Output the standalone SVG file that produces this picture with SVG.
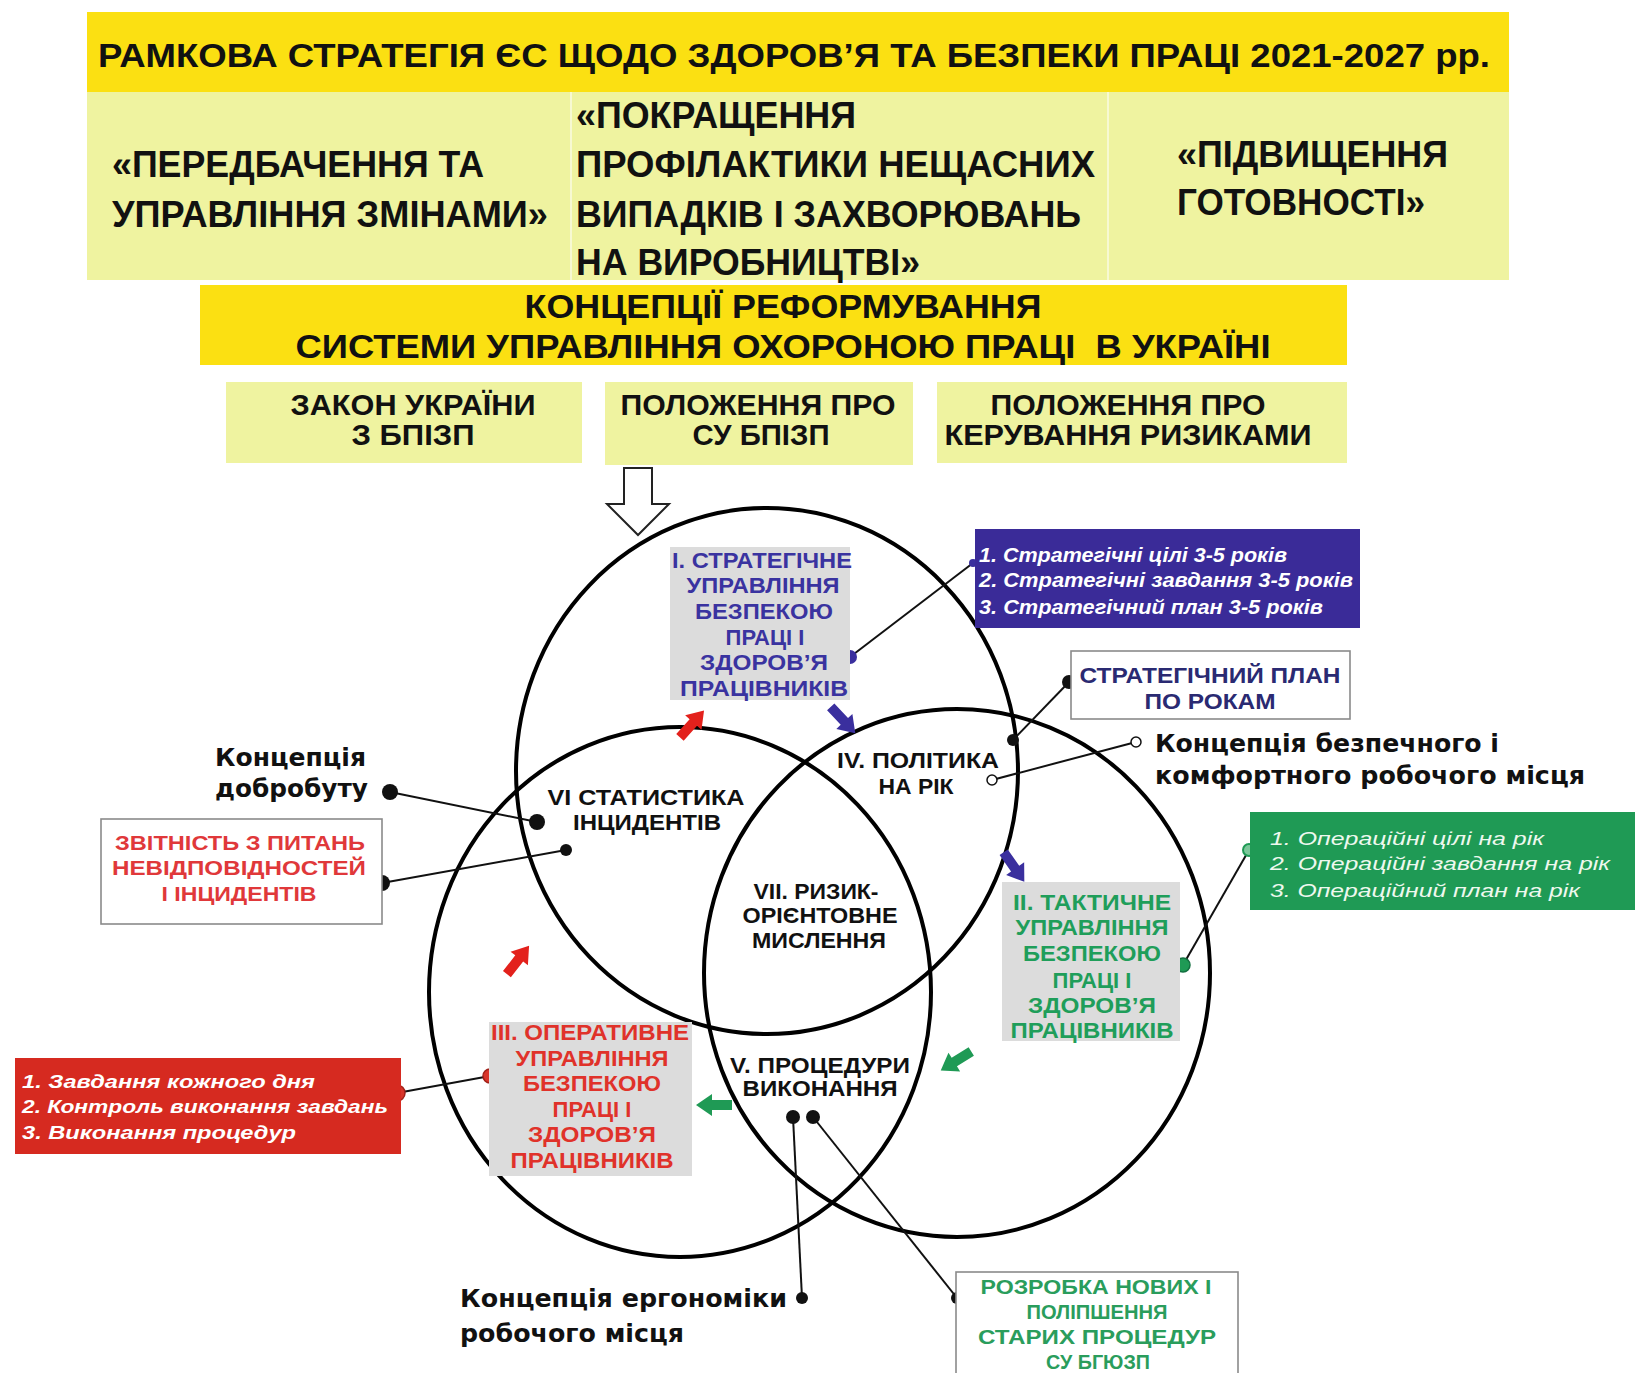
<svg xmlns="http://www.w3.org/2000/svg" width="1640" height="1373" viewBox="0 0 1640 1373">
<defs>
<style>
.h{font-family:"Liberation Sans Narrow","Liberation Sans",Arial,sans-serif;font-weight:bold;fill:#111;white-space:pre;}
.c{font-family:"Liberation Sans","DejaVu Sans",Arial,sans-serif;font-weight:bold;fill:#111;white-space:pre;}
.k{font-family:"DejaVu Sans","Liberation Sans",sans-serif;font-weight:bold;fill:#111;}
.li{font-family:"Liberation Sans",Arial,sans-serif;font-weight:bold;font-style:italic;fill:#fff;}
.mid{text-anchor:middle;}
.ring{fill:none;stroke:#000;stroke-width:4;}
.con{stroke:#111;stroke-width:2;fill:none;}
.grey{fill:#dcdcdc;}
.wbox{fill:#fff;stroke:#8a8a8a;stroke-width:1.6;}
</style>
<path id="blk" d="M-18,-5 L2,-5 L2,-11 L18,0 L2,11 L2,5 L-18,5 Z"/>
</defs>
<rect width="1640" height="1373" fill="#fff"/>

<g id="title">
<rect x="87" y="12" width="1422" height="80" fill="#fbe012"/>
<text class="h mid" x="794" y="67" font-size="33" textLength="1392" lengthAdjust="spacingAndGlyphs">РАМКОВА СТРАТЕГІЯ ЄС ЩОДО ЗДОРОВ’Я ТА БЕЗПЕКИ ПРАЦІ 2021-2027 рр.</text>
</g>
<g id="cells">
<rect x="87" y="92" width="1422" height="188" fill="#eff3a0"/>
<line x1="571" y1="92" x2="571" y2="280" stroke="#f7f9d2" stroke-width="2"/>
<line x1="1108" y1="92" x2="1108" y2="280" stroke="#f7f9d2" stroke-width="2"/>
</g>
<g id="cell1">
<text class="h" x="112" y="177" font-size="37" textLength="372" lengthAdjust="spacingAndGlyphs">«ПЕРЕДБАЧЕННЯ ТА</text>
<text class="h" x="112" y="227" font-size="37" textLength="436" lengthAdjust="spacingAndGlyphs">УПРАВЛІННЯ ЗМІНАМИ»</text>
</g>
<g id="cell2">
<text class="h" x="576" y="128" font-size="37" textLength="280" lengthAdjust="spacingAndGlyphs">«ПОКРАЩЕННЯ</text>
<text class="h" x="576" y="177" font-size="37" textLength="519" lengthAdjust="spacingAndGlyphs">ПРОФІЛАКТИКИ НЕЩАСНИХ</text>
<text class="h" x="576" y="227" font-size="37" textLength="505" lengthAdjust="spacingAndGlyphs">ВИПАДКІВ І ЗАХВОРЮВАНЬ</text>
<text class="h" x="576" y="275" font-size="37" textLength="344" lengthAdjust="spacingAndGlyphs">НА ВИРОБНИЦТВІ»</text>
</g>
<g id="cell3">
<text class="h" x="1177" y="167" font-size="37" textLength="271" lengthAdjust="spacingAndGlyphs">«ПІДВИЩЕННЯ</text>
<text class="h" x="1177" y="215" font-size="37" textLength="248" lengthAdjust="spacingAndGlyphs">ГОТОВНОСТІ»</text>
</g>

<g id="concept">
<rect x="200" y="285" width="1147" height="80" fill="#fbe012"/>
<text class="h mid" x="783" y="318" font-size="33" textLength="517" lengthAdjust="spacingAndGlyphs">КОНЦЕПЦІЇ РЕФОРМУВАННЯ</text>
<text class="h mid" x="783" y="358" font-size="33" textLength="975" lengthAdjust="spacingAndGlyphs">СИСТЕМИ УПРАВЛІННЯ ОХОРОНОЮ ПРАЦІ  В УКРАЇНІ</text>
</g>
<g id="law">
<rect x="226" y="382" width="356" height="81" fill="#eff3a0"/>
<text class="h mid" x="413" y="415" font-size="30" textLength="245" lengthAdjust="spacingAndGlyphs">ЗАКОН УКРАЇНИ</text>
<text class="h mid" x="413" y="445" font-size="30" textLength="123" lengthAdjust="spacingAndGlyphs">З БПІЗП</text>
</g>
<g id="reg1">
<rect x="605" y="382" width="308" height="83" fill="#eff3a0"/>
<text class="h mid" x="758" y="415" font-size="30" textLength="275" lengthAdjust="spacingAndGlyphs">ПОЛОЖЕННЯ ПРО</text>
<text class="h mid" x="761" y="445" font-size="30" textLength="137" lengthAdjust="spacingAndGlyphs">СУ БПІЗП</text>
</g>
<g id="reg2">
<rect x="937" y="382" width="410" height="81" fill="#eff3a0"/>
<text class="h mid" x="1128" y="415" font-size="30" textLength="275" lengthAdjust="spacingAndGlyphs">ПОЛОЖЕННЯ ПРО</text>
<text class="h mid" x="1128" y="445" font-size="30" textLength="367" lengthAdjust="spacingAndGlyphs">КЕРУВАННЯ РИЗИКАМИ</text>
</g>

<g id="rings">
<ellipse class="ring" cx="767" cy="771" rx="251" ry="263"/>
<ellipse class="ring" cx="957" cy="973" rx="253" ry="264"/>
<ellipse class="ring" cx="680" cy="992" rx="251" ry="265"/>
</g>

<g id="connectors">
<path d="M624,468 H652 V504 H669 L638,535 L607,504 H624 Z" fill="#fff" stroke="#222" stroke-width="2"/>
<line class="con" x1="850" y1="657" x2="973" y2="563"/>
<line class="con" x1="1013" y1="740" x2="1069" y2="682"/>
<line class="con" x1="992" y1="780" x2="1136" y2="742"/>
<line class="con" x1="390" y1="792" x2="537" y2="822"/>
<line class="con" x1="382" y1="883" x2="566" y2="850"/>
<line class="con" x1="1249" y1="850" x2="1183" y2="965"/>
<line class="con" x1="397" y1="1093" x2="490" y2="1076"/>
<line class="con" x1="793" y1="1117" x2="802" y2="1298"/>
<line class="con" x1="813" y1="1117" x2="957" y2="1298"/>
<circle cx="850" cy="657" r="7" fill="#3a2f9e"/>
<circle cx="973" cy="563" r="4" fill="#3a2f9e"/>
<circle cx="1013" cy="740" r="6" fill="#111"/>
<circle cx="1069" cy="682" r="7" fill="#111"/>
<circle cx="992" cy="780" r="5" fill="#fff" stroke="#111" stroke-width="1.5"/>
<circle cx="1136" cy="742" r="5" fill="#fff" stroke="#111" stroke-width="1.5"/>
<circle cx="390" cy="792" r="8" fill="#111"/>
<circle cx="537" cy="822" r="8" fill="#111"/>
<circle cx="382" cy="883" r="8" fill="#111"/>
<circle cx="566" cy="850" r="6" fill="#111"/>
<circle cx="1249" cy="850" r="6" fill="#7cc79a" stroke="#1f9a55" stroke-width="2"/>
<circle cx="1183" cy="965" r="7" fill="#1f9a55" stroke="#137040" stroke-width="1.5"/>
<circle cx="397" cy="1093" r="8" fill="#d8352a" stroke="#a02018" stroke-width="1.5"/>
<circle cx="490" cy="1076" r="7" fill="#d8352a" stroke="#a02018" stroke-width="1.5"/>
<circle cx="793" cy="1117" r="7" fill="#111"/>
<circle cx="813" cy="1117" r="7" fill="#111"/>
<circle cx="802" cy="1298" r="6" fill="#111"/>
<circle cx="957" cy="1298" r="6" fill="#111"/>
<use href="#blk" fill="#e3211c" transform="translate(692,724) rotate(-48)"/>
<use href="#blk" fill="#e3211c" transform="translate(518,960) rotate(-52)"/>
<use href="#blk" fill="#3a2f9e" transform="translate(843,720) rotate(47)"/>
<use href="#blk" fill="#3a2f9e" transform="translate(1014,867) rotate(55)"/>
<use href="#blk" fill="#1f9a55" transform="translate(956,1061) rotate(148)"/>
<use href="#blk" fill="#1f9a55" transform="translate(714,1105) rotate(180)"/>
</g>

<g id="strategic">
<rect class="grey" x="670" y="547" width="180" height="153"/>
<g class="c mid" font-size="22" style="fill:#3a33a0">
<text x="762" y="568" textLength="180" lengthAdjust="spacingAndGlyphs">І. СТРАТЕГІЧНЕ</text>
<text x="763" y="593" textLength="153" lengthAdjust="spacingAndGlyphs">УПРАВЛІННЯ</text>
<text x="764" y="619" textLength="138" lengthAdjust="spacingAndGlyphs">БЕЗПЕКОЮ</text>
<text x="765" y="645">ПРАЦІ І</text>
<text x="764" y="670" textLength="128" lengthAdjust="spacingAndGlyphs">ЗДОРОВ’Я</text>
<text x="764" y="696" textLength="168" lengthAdjust="spacingAndGlyphs">ПРАЦІВНИКІВ</text>
</g>
</g>
<g id="tactical">
<rect class="grey" x="1002" y="882" width="178" height="159"/>
<g class="c mid" font-size="22" style="fill:#1f9e5a">
<text x="1092" y="910" textLength="158" lengthAdjust="spacingAndGlyphs">ІІ. ТАКТИЧНЕ</text>
<text x="1092" y="935" textLength="153" lengthAdjust="spacingAndGlyphs">УПРАВЛІННЯ</text>
<text x="1092" y="961" textLength="138" lengthAdjust="spacingAndGlyphs">БЕЗПЕКОЮ</text>
<text x="1092" y="988">ПРАЦІ І</text>
<text x="1092" y="1013" textLength="128" lengthAdjust="spacingAndGlyphs">ЗДОРОВ’Я</text>
<text x="1092" y="1038" textLength="163" lengthAdjust="spacingAndGlyphs">ПРАЦІВНИКІВ</text>
</g>
</g>
<g id="operative">
<rect class="grey" x="489" y="1022" width="203" height="154"/>
<g class="c mid" font-size="22" style="fill:#e0322a">
<text x="590" y="1040" textLength="198" lengthAdjust="spacingAndGlyphs">ІІІ. ОПЕРАТИВНЕ</text>
<text x="592" y="1066" textLength="153" lengthAdjust="spacingAndGlyphs">УПРАВЛІННЯ</text>
<text x="592" y="1091" textLength="138" lengthAdjust="spacingAndGlyphs">БЕЗПЕКОЮ</text>
<text x="592" y="1117">ПРАЦІ І</text>
<text x="592" y="1142" textLength="128" lengthAdjust="spacingAndGlyphs">ЗДОРОВ’Я</text>
<text x="592" y="1168" textLength="163" lengthAdjust="spacingAndGlyphs">ПРАЦІВНИКІВ</text>
</g>
</g>

<g id="policy" class="c mid" font-size="22">
<text x="918" y="768" textLength="162" lengthAdjust="spacingAndGlyphs">IV. ПОЛІТИКА</text>
<text x="916" y="794" textLength="75" lengthAdjust="spacingAndGlyphs">НА РІК</text>
</g>
<g id="statistics" class="c mid" font-size="22">
<text x="646" y="805" textLength="197" lengthAdjust="spacingAndGlyphs">VI  СТАТИСТИКА</text>
<text x="647" y="830" textLength="148" lengthAdjust="spacingAndGlyphs">ІНЦИДЕНТІВ</text>
</g>
<g id="risk" class="c mid" font-size="22">
<text x="816" y="899" textLength="125" lengthAdjust="spacingAndGlyphs">VII. РИЗИК-</text>
<text x="820" y="923" textLength="155" lengthAdjust="spacingAndGlyphs">ОРІЄНТОВНЕ</text>
<text x="819" y="948" textLength="134" lengthAdjust="spacingAndGlyphs">МИСЛЕННЯ</text>
</g>
<g id="procedures" class="c mid" font-size="22">
<text x="820" y="1073" textLength="180" lengthAdjust="spacingAndGlyphs">V. ПРОЦЕДУРИ</text>
<text x="820" y="1096" textLength="155" lengthAdjust="spacingAndGlyphs">ВИКОНАННЯ</text>
</g>

<g id="strat-list">
<rect x="975" y="529" width="385" height="99" fill="#3a2b98"/>
<text class="li" x="979" y="562" font-size="20" textLength="308" lengthAdjust="spacingAndGlyphs">1. Стратегічні цілі 3-5 років</text>
<text class="li" x="979" y="587" font-size="20" textLength="374" lengthAdjust="spacingAndGlyphs">2. Стратегічні завдання 3-5 років</text>
<text class="li" x="979" y="614" font-size="20" textLength="344" lengthAdjust="spacingAndGlyphs">3. Стратегічний план 3-5 років</text>
</g>
<g id="plan-years">
<rect class="wbox" x="1071" y="651" width="279" height="68"/>
<text class="c mid" x="1210" y="683" font-size="22" style="fill:#2a2a72" textLength="261" lengthAdjust="spacingAndGlyphs">СТРАТЕГІЧНИЙ ПЛАН</text>
<text class="c mid" x="1210" y="709" font-size="22" style="fill:#2a2a72" textLength="131" lengthAdjust="spacingAndGlyphs">ПО РОКАМ</text>
</g>
<g id="safe-workplace">
<text class="k" x="1155" y="752" font-size="25" textLength="344" lengthAdjust="spacingAndGlyphs">Концепція безпечного і</text>
<text class="k" x="1155" y="784" font-size="25" textLength="430" lengthAdjust="spacingAndGlyphs">комфортного робочого місця</text>
</g>
<g id="wellbeing">
<text class="k" x="215" y="766" font-size="25" textLength="151" lengthAdjust="spacingAndGlyphs">Концепція</text>
<text class="k" x="215" y="797" font-size="25" textLength="153" lengthAdjust="spacingAndGlyphs">добробуту</text>
</g>
<g id="reporting">
<rect class="wbox" x="101" y="819" width="281" height="105"/>
<g class="c mid" font-size="20" style="fill:#e0383a">
<text x="240" y="850" textLength="250" lengthAdjust="spacingAndGlyphs">ЗВІТНІСТЬ З ПИТАНЬ</text>
<text x="239" y="875" textLength="254" lengthAdjust="spacingAndGlyphs">НЕВІДПОВІДНОСТЕЙ</text>
<text x="239" y="901" textLength="155" lengthAdjust="spacingAndGlyphs">І ІНЦИДЕНТІВ</text>
</g>
</g>
<g id="oper-list">
<rect x="1250" y="812" width="385" height="98" fill="#1f9a55"/>
<text class="li" x="1270" y="845" font-size="19" style="font-weight:normal;fill:#eef8ee" textLength="274" lengthAdjust="spacingAndGlyphs">1. Операційні цілі на рік</text>
<text class="li" x="1270" y="870" font-size="19" style="font-weight:normal;fill:#eef8ee" textLength="340" lengthAdjust="spacingAndGlyphs">2. Операційні завдання на рік</text>
<text class="li" x="1270" y="897" font-size="19" style="font-weight:normal;fill:#eef8ee" textLength="310" lengthAdjust="spacingAndGlyphs">3. Операційний план на рік</text>
</g>
<g id="daily-list">
<rect x="15" y="1058" width="386" height="96" fill="#d62a20"/>
<text class="li" x="22" y="1088" font-size="19" textLength="293" lengthAdjust="spacingAndGlyphs">1. Завдання кожного дня</text>
<text class="li" x="22" y="1113" font-size="19" textLength="366" lengthAdjust="spacingAndGlyphs">2. Контроль виконання завдань</text>
<text class="li" x="22" y="1139" font-size="19" textLength="274" lengthAdjust="spacingAndGlyphs">3. Виконання процедур</text>
</g>
<g id="ergonomics">
<text class="k" x="460" y="1307" font-size="25" textLength="327" lengthAdjust="spacingAndGlyphs">Концепція ергономіки</text>
<text class="k" x="460" y="1342" font-size="25" textLength="224" lengthAdjust="spacingAndGlyphs">робочого місця</text>
</g>
<g id="new-procedures">
<rect class="wbox" x="956" y="1272" width="282" height="110"/>
<g class="c mid" font-size="20" style="fill:#2a9d5c">
<text x="1096" y="1294" textLength="231" lengthAdjust="spacingAndGlyphs">РОЗРОБКА НОВИХ І</text>
<text x="1097" y="1319" textLength="141" lengthAdjust="spacingAndGlyphs">ПОЛІПШЕННЯ</text>
<text x="1097" y="1344" textLength="238" lengthAdjust="spacingAndGlyphs">СТАРИХ ПРОЦЕДУР</text>
<text x="1098" y="1369" textLength="104" lengthAdjust="spacingAndGlyphs">СУ БГЮЗП</text>
</g>
</g>
</svg>
